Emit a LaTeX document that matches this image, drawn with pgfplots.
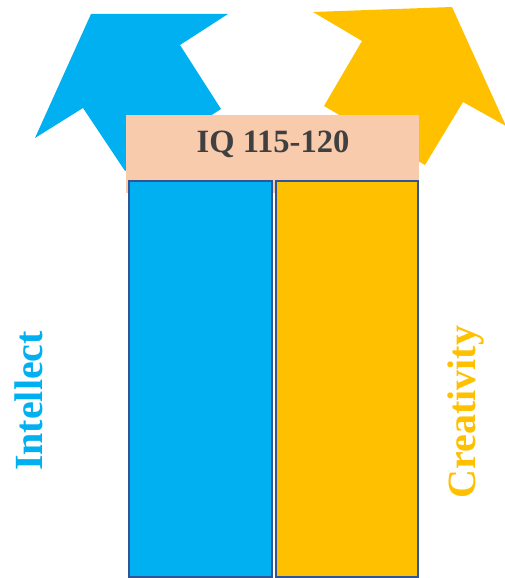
\documentclass[border=0pt]{standalone}
\usepackage{fontspec}
\setmainfont{Liberation Serif}
\usepackage{pgfplots}
\pgfplotsset{compat=1.18}
\definecolor{iblue}{HTML}{00B0F0}
\definecolor{cyell}{HTML}{FFC000}
\definecolor{beige}{HTML}{F8CBAD}
\definecolor{edgeb}{HTML}{2F5597}
\definecolor{tgray}{HTML}{404040}
\begin{document}
\begin{tikzpicture}
\begin{axis}[
  scale only axis, width=505pt, height=578pt,
  xmin=0, xmax=505, ymin=-1, ymax=577,
  axis lines=none, ticks=none,
]
% Intellect arrow
\addplot[fill=iblue, draw=none] coordinates {(91,563) (228,563) (180,532) (221,468) (125,406) (83,469) (35,439)} -- cycle;
% Creativity arrow
\addplot[fill=cyell, draw=none] coordinates {(313,565) (452,570) (506,451) (463,475) (425,412) (324,471) (362,536)} -- cycle;
% label box
\addplot[fill=beige, draw=none] coordinates {(126,462) (419,462) (419,384) (126,384)} -- cycle;
% bars
\addplot[ybar, bar width=143, fill=iblue, draw=edgeb, line width=2pt] coordinates {(200.5,396)};
\addplot[ybar, bar width=142, fill=cyell, draw=edgeb, line width=2pt] coordinates {(347,396)};
\node[text=tgray, font=\fontsize{32.5}{38}\selectfont\bfseries] at (axis cs:273,433) {IQ 115-120};
\node[text=iblue, rotate=90, inner sep=0pt, font=\fontsize{40}{48}\selectfont\bfseries] at (axis cs:28.5,176) {Intellect};
\node[text=cyell, rotate=90, inner sep=0pt, font=\fontsize{40}{48}\selectfont\bfseries] at (axis cs:466,165) {Creativity};
\end{axis}
\path (current axis.south west) rectangle (current axis.north east);
\end{tikzpicture}
\end{document}
